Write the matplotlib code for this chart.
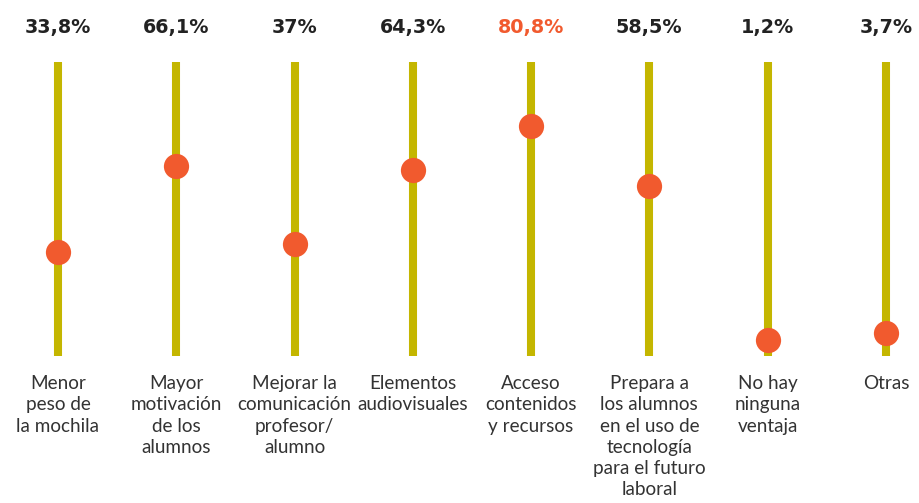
import matplotlib.pyplot as plt

# Data
categories = [
    "Menor\npeso de\nla mochila",
    "Mayor\nmotivación\nde los\nalumnos",
    "Mejorar la\ncomunicación\nprofesor/\nalumno",
    "Elementos\naudiovisuales",
    "Acceso\ncontenidos\ny recursos",
    "Prepara a\nlos alumnos\nen el uso de\ntecnología\npara el futuro\nlaboral",
    "No hay\nninguna\nventaja",
    "Otras",
]
values = [33.8, 66.1, 37, 64.3, 80.8, 58.5, 1.2, 3.7]
value_labels = ["33,8%", "66,1%", "37%", "64,3%", "80,8%", "58,5%", "1,2%", "3,7%"]
highlight = 4

bar_color = "#c4b600"
dot_color = "#f15a2e"
text_color = "#222222"

fig = plt.figure(figsize=(9.19, 5.03), dpi=100)
ax = fig.add_axes([0, 0, 1, 1])
ax.set_xlim(-0.49, 7.28)
ax.set_ylim(-59.6, 127.8)
ax.axis("off")

xs = list(range(len(values)))

# vertical tracks
ax.vlines(xs, -4.8, 104.7, color=bar_color, linewidth=5.8, zorder=1)

# dots
ax.scatter(xs, values, s=330, color=dot_color, zorder=2, linewidths=0)

# value labels on top
for i, lab in enumerate(value_labels):
    c = dot_color if i == highlight else text_color
    ax.text(i, 117.4, lab, ha="center", va="center", fontsize=13.8,
            fontweight="bold", color=c)

# category labels below
for i, cat in enumerate(categories):
    ax.text(i, -12.0, cat, ha="center", va="top", fontsize=13.6,
            family="Lato", color="#333333", linespacing=1.3)

fig.savefig("out.png", dpi=100)
